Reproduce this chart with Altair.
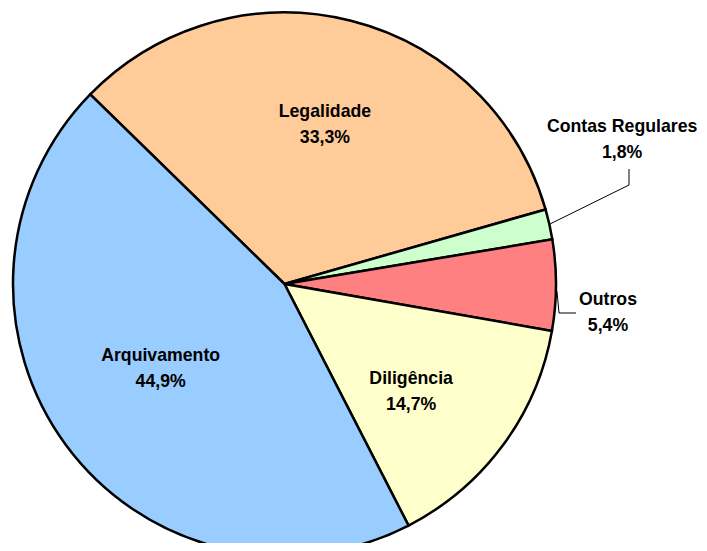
import math
import altair as alt
import pandas as pd

categories = ["Legalidade", "Contas Regulares", "Outros", "Diligência", "Arquivamento"]
values = [33.3, 1.8, 5.4, 14.7, 44.9]
pct_labels = ["33,3%", "1,8%", "5,4%", "14,7%", "44,9%"]
colors = ["#FFCC99", "#CCFFCC", "#FF8080", "#FFFFCC", "#99CCFF"]

df = pd.DataFrame({"cat": categories, "value": values, "pct": pct_labels})
df["end"] = df["value"].cumsum()
df["start"] = df["end"] - df["value"]
df["mid"] = df["start"] + df["value"] / 2
df["label"] = df["cat"] + "\n" + df["pct"]
total = float(sum(values))

START = math.radians(314.3)
CX, CY, R = 276.5, 276.0, 271.5
theta_scale = alt.Scale(domain=[0, total], range=[START, START + 2 * math.pi])
color_scale = alt.Scale(domain=categories, range=colors)

base = alt.Chart(df)

pie = base.mark_arc(outerRadius=R, stroke="black", strokeWidth=2.5).encode(
    theta=alt.Theta("start:Q", scale=theta_scale, stack=None),
    theta2="end:Q",
    color=alt.Color("cat:N", scale=color_scale, legend=None),
    x=alt.value(CX),
    y=alt.value(CY),
)


def label(cat, radius, dx=0, dy=0):
    return base.transform_filter(alt.datum.cat == cat).mark_text(
        radius=radius, dx=dx, dy=dy - 13, font="Liberation Sans", fontWeight="bold",
        fontSize=17.7, lineBreak="\n", lineHeight=26, color="black",
        align="center", baseline="middle",
    ).encode(
        theta=alt.Theta("mid:Q", scale=theta_scale, stack=None),
        text="label:N",
        x=alt.value(CX),
        y=alt.value(CY),
    )


def edge(cat, r):
    m = float(df.loc[df["cat"] == cat, "mid"].iloc[0])
    a = START + m / total * 2 * math.pi
    return CX + r * math.sin(a), CY - r * math.cos(a)


# leader lines (start at slice edge, elbow near the label)
cx0, cy0 = edge("Contas Regulares", R)
ox0, oy0 = edge("Outros", R)
lead = pd.DataFrame({
    "seg": ["c", "c", "c", "o", "o", "o"],
    "o": [0, 1, 2, 0, 1, 2],
    "x": [cx0, 621, 621, ox0 + 1, 551, 568],
    "y": [cy0, 177, 161, oy0 + 6, 305, 305],
})
leaders = alt.Chart(lead).mark_line(color="black", strokeWidth=1).encode(
    x=alt.X("x:Q", scale=None, axis=None),
    y=alt.Y("y:Q", scale=None, axis=None),
    detail="seg:N",
    order="o:Q",
)

chart = alt.layer(
    leaders,
    pie,
    label("Legalidade", 165, 0, 1),
    label("Arquivamento", 149, -4, -4),
    label("Diligência", 166, -7, 10),
    label("Contas Regulares", 300, 45, -78),
    label("Outros", 300, 23.5, 28),
).properties(
    width=691, height=535,
    autosize=alt.AutoSizeParams(type="none"),
    padding=0,
).configure_view(stroke=None)

chart.save("out.html", embed_options={"renderer": "svg", "actions": False})
